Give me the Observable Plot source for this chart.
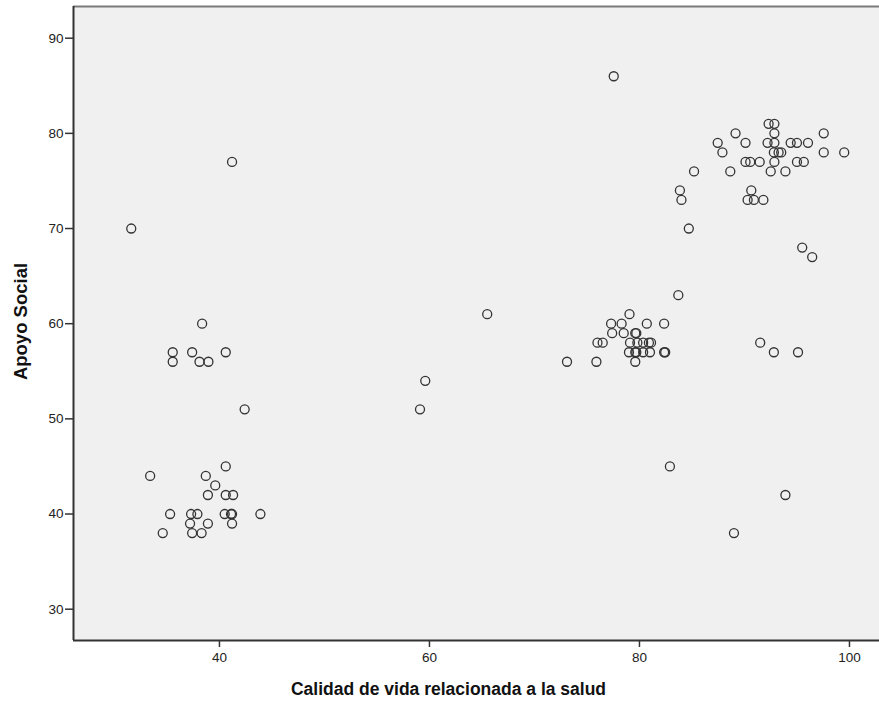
<!DOCTYPE html>
<html>
<head>
<meta charset="utf-8">
<script src="https://cdn.jsdelivr.net/npm/d3@7"></script>
<script src="https://cdn.jsdelivr.net/npm/@observablehq/plot@0.6"></script>
<style>
  html, body { margin: 0; padding: 0; background: #ffffff; }
  #chart { width: 879px; height: 705px; }
</style>
</head>
<body>
<div id="chart"></div>
<script>
// Calidad de vida relacionada a la salud (x)
const calidad = [
  31.6, 41.2, 38.35, 35.55, 35.55, 37.4, 38.1, 38.95, 40.6, 42.4,
  33.4, 40.6, 38.7, 39.6, 38.9, 40.6, 41.3, 35.3, 37.3, 37.9,
  40.5, 41.1, 41.2, 43.9, 37.2, 38.9, 41.2, 34.6, 37.4, 38.3,
  59.1, 59.6, 65.5, 73.1, 75.9, 77.55,
  79.05, 77.3, 78.3, 80.7, 82.35, 77.4, 78.5, 79.6, 79.7, 76.0,
  76.5, 79.1, 79.8, 80.35, 80.9, 81.1, 79.0, 79.6, 79.7, 80.35,
  81.0, 82.35, 82.45, 79.6, 83.7, 82.9,
  84.7, 83.85, 84.0, 85.2, 95.5, 96.45, 91.5, 92.8, 95.1, 93.9,
  89.0, 92.3, 92.85, 92.85, 97.55, 89.15, 87.45, 90.1, 92.2, 92.85,
  94.4, 95.0, 96.05, 87.9, 92.8, 93.25, 93.5, 97.55, 99.5, 90.1,
  90.55, 91.45, 92.85, 95.0, 95.65, 88.65, 92.5, 93.9, 90.65, 90.3,
  90.9, 91.8
];
// Apoyo Social (y)
const apoyo = [
  70, 77, 60, 57, 56, 57, 56, 56, 57, 51,
  44, 45, 44, 43, 42, 42, 42, 40, 40, 40,
  40, 40, 40, 40, 39, 39, 39, 38, 38, 38,
  51, 54, 61, 56, 56, 86,
  61, 60, 60, 60, 60, 59, 59, 59, 59, 58,
  58, 58, 58, 58, 58, 58, 57, 57, 57, 57,
  57, 57, 57, 56, 63, 45,
  70, 74, 73, 76, 68, 67, 58, 57, 57, 42,
  38, 81, 81, 80, 80, 80, 79, 79, 79, 79,
  79, 79, 79, 78, 78, 78, 78, 78, 78, 77,
  77, 77, 77, 77, 77, 76, 76, 76, 74, 73,
  73, 73
];
const xTicks = [40, 60, 80, 100];
const yTicks = [30, 40, 50, 60, 70, 80, 90];
const xLabel = "Calidad de vida relacionada a la salud";
const yLabel = "Apoyo Social";

const data = calidad.map((c, i) => ({c, a: apoyo[i]}));

const xDomain = [26.1, 102.86];
const yDomain = [26.71, 93.33];

const chart = Plot.plot({
  width: 879,
  height: 705,
  marginLeft: 73,
  marginRight: 0,
  marginTop: 6,
  marginBottom: 65,
  style: {fontFamily: "'Liberation Sans', Arial, sans-serif", fontSize: "13px", color: "#222", background: "#ffffff"},
  x: {domain: xDomain, label: null},
  y: {domain: yDomain, label: null},
  marks: [
    Plot.frame({fill: "#f0f0f0", stroke: "none"}),
    Plot.ruleY([yDomain[1]], {stroke: "#7a7a7a", strokeWidth: 2}),
    Plot.dot(data, {x: "c", y: "a", r: 4.5, stroke: "#333", strokeWidth: 1.3, fill: "none"}),
    Plot.axisX({ticks: xTicks, tickSize: 7, tickPadding: 5, stroke: "#333", strokeWidth: 1.5, label: null, fontSize: 13.5, fill: "#222"}),
    Plot.axisY({ticks: yTicks, tickSize: 8, tickPadding: 2, stroke: "#333", strokeWidth: 1.5, label: null, fontSize: 13.5, fill: "#222"}),
    Plot.ruleX([xDomain[0]], {stroke: "#333", strokeWidth: 2}),
    Plot.ruleY([yDomain[0]], {stroke: "#333", strokeWidth: 2}),
    Plot.text([xLabel], {frameAnchor: "bottom", dy: 54, dx: -28, fontSize: 17.5, fontWeight: "bold", fill: "#111"}),
    Plot.text([yLabel], {frameAnchor: "left", dx: -52, dy: -2, rotate: -90, textAnchor: "middle", fontSize: 18.5, fontWeight: "bold", fill: "#111"})
  ]
});
document.getElementById("chart").appendChild(chart);
</script>
</body>
</html>
